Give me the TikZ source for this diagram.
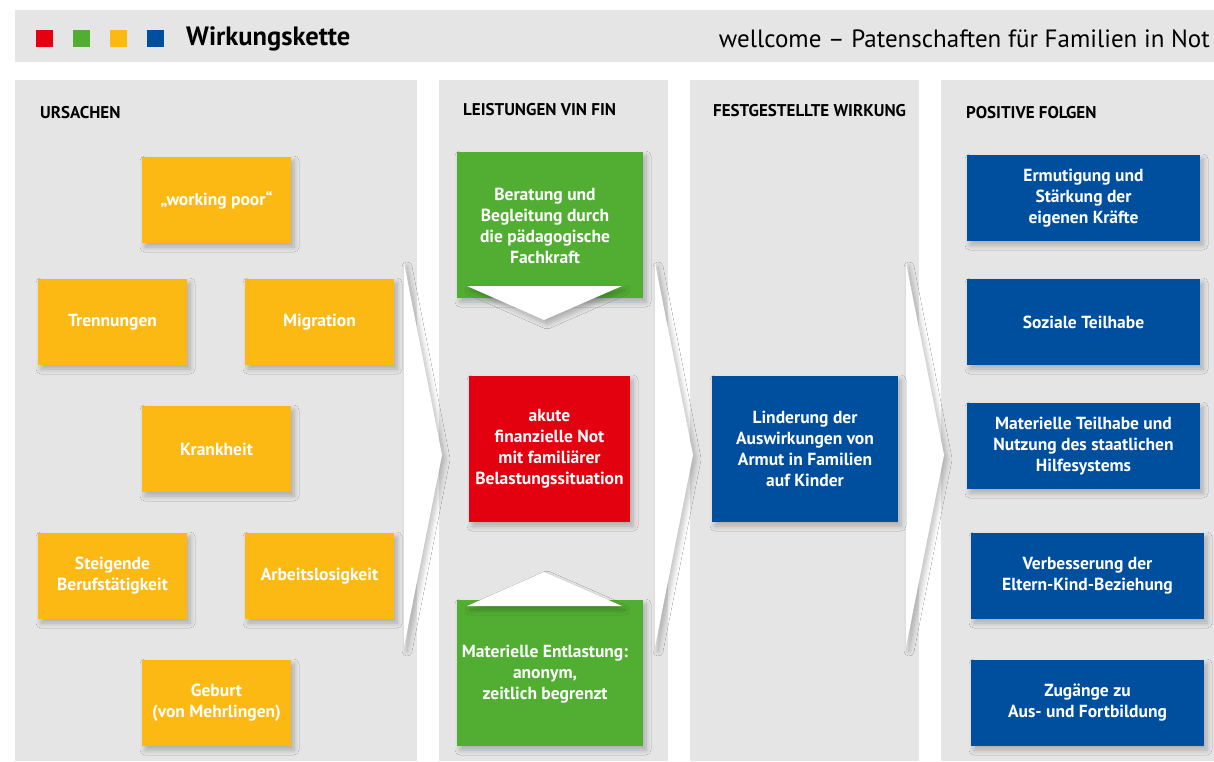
\documentclass[tikz,border=0pt]{standalone}
\usepackage{fontspec}
\setmainfont{PT Sans}
\usepackage{tikz}
\usetikzlibrary{shadows, shadows.blur}
\usetikzlibrary{positioning}

\definecolor{wkred}{HTML}{E3000F}
\definecolor{wkgreen}{HTML}{52AE32}
\definecolor{wkyellow}{HTML}{FDB913}
\definecolor{wkblue}{HTML}{004F9F}
\definecolor{wkgray}{HTML}{E5E5E5}

\tikzset{
  fx/.style={blur shadow={shadow xshift=3pt, shadow yshift=-4pt, shadow blur steps=8, shadow blur radius=5pt, shadow opacity=25}},
  wktext/.style={inner sep=0pt, align=center, text=white, font=\bfseries\fontsize{17.5}{21}\selectfont},
  wkbox/.style={wktext, fx},
  ybox/.style={wkbox, fill=wkyellow, minimum width=149pt, minimum height=86pt},
  gbox/.style={wkbox, fill=wkgreen, minimum width=186pt, minimum height=146pt},
  bbox/.style={wkbox, fill=wkblue, minimum width=233pt, minimum height=86pt},
  colhead/.style={anchor=west, inner sep=0pt, font=\bfseries\fontsize{17}{19}\selectfont},
}

\begin{document}
\begin{tikzpicture}[x=1pt, y=-1pt]
      \useasboundingbox (0,0) rectangle (1214,761);
      \fill[white] (0,0) rectangle (1214,761);

      % header
      \fill[wkgray] (15,10) rectangle (1214,62);
      \foreach \c [count=\i from 0] in {wkred, wkgreen, wkyellow, wkblue}{
        \fill[\c] (36 + 37*\i, 30) rectangle (53 + 37*\i, 47);
      }
      \node[anchor=west, inner sep=0pt, font=\bfseries\fontsize{26.5}{28}\selectfont] (title) at (186,39) {Wirkungskette};
      \node[anchor=east, inner sep=0pt, font=\fontsize{25}{28}\selectfont] (subtitle) at (1210,39) {wellcome – Patenschaften für Familien in Not};

      % columns
      \foreach \l/\r in {15/417, 439/668, 690/919, 941/1214}{
        \fill[wkgray] (\l,80) rectangle (\r,761);
      }
      \node[colhead] (h1) at (40,113) {URSACHEN};
      \node[colhead] (h2) at (463,110) {LEISTUNGEN VIN FIN};
      \node[colhead] (h3) at (713,111) {FESTGESTELLTE WIRKUNG};
      \node[colhead] (h4) at (966,113) {POSITIVE FOLGEN};

      % chevrons between columns
      \foreach \x in {404, 655, 906}{
        \fill[white, fx] (\x,263) -- (\x + 38,455) -- (\x,647) -- cycle;
      }

      % causes
      \node[ybox] (poor) at (216.5,200) {„working poor“};
      \node[ybox] (trenn) at (112.5,322) {Trennungen};
      \node[ybox] (migr) at (319.5,322) {Migration};
      \node[ybox] (krank) at (216.5,449) {Krankheit};
      \node[ybox] (beruf) at (112.5,576) {Steigende\\Berufstätigkeit};
      \node[ybox] (arbeit) at (319.5,576) {Arbeitslosigkeit};
      \node[ybox] (geburt) at (216.5,703) {Geburt\\(von Mehrlingen)};

      % services
      \node[gbox] (berat) at (550,225) {};
      \fill[white, fx] (467,286) -- (622,286) -- (544,320) -- cycle;
      \node[wktext] (beratext) at (545,226) {Beratung und\\Begleitung durch\\die pädagogische\\Fachkraft};
      \node[gbox] (mat) at (550,673) {};
      \fill[white, fx] (467,606) -- (622,606) -- (544,572) -- cycle;
      \node[wktext] (mattext) at (545,674) {Materielle Entlastung:\\anonym,\\zeitlich begrenzt};
      \node[wkbox, fill=wkred, minimum width=161pt, minimum height=146pt] (not) at (549.5,449) {akute\\finanzielle Not\\mit familiärer\\Belastungssituation};

      % effect
      \node[wkbox, fill=wkblue, minimum width=186pt, minimum height=146pt] (lind) at (805,449) {Linderung der\\Auswirkungen von\\Armut in Familien\\auf Kinder};

      % consequences
      \node[bbox] (ermut) at (1083.5,198) {Ermutigung und\\Stärkung der\\eigenen Kräfte};
      \node[bbox] (sozial) at (1083.5,322) {Soziale Teilhabe};
      \node[bbox] (materiell) at (1083.5,446) {Materielle Teilhabe und\\Nutzung des staatlichen\\Hilfesystems};
      \node[bbox] (eltern) at (1087.5,576) {Verbesserung der\\Eltern-Kind-Beziehung};
      \node[bbox] (bildung) at (1087.5,703) {Zugänge zu\\Aus- und Fortbildung};

    \end{tikzpicture}
\end{document}
